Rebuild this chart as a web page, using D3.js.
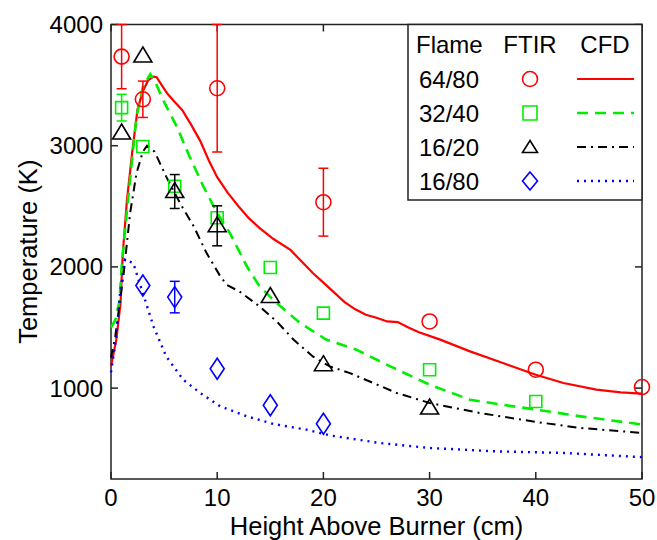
<!DOCTYPE html>
<html lang="en">
<head>
    <meta charset="UTF-8">
    <title>Temperature vs Height Above Burner</title>
    <script src="https://d3js.org/d3.v7.min.js"></script>
    <style>
        body {
            margin: 0;
            background-color: #fff;
        }
        svg {
            display: block;
            font-family: Arial, "Liberation Sans", sans-serif;
        }
    </style>
</head>
<body>
    <div id="chart"></div>

    <script>
        // CFD curves (temperature in K vs height in cm)
        const cfd6480X = [0, 0.5, 0.9, 1.1, 1.5, 2, 2.5, 3, 3.5, 4, 4.3, 4.7, 5.3, 6, 6.7, 7.5, 8.4, 9.2, 10, 11, 12, 13, 14, 15.3, 16.9, 18, 19, 20, 21, 22, 23, 24, 25, 26, 27, 28, 29, 31, 33.8, 36.9, 40, 42.6, 45.7, 48, 50];
        const cfd6480T = [1180, 1400, 1700, 2100, 2550, 2950, 3300, 3450, 3540, 3570, 3565, 3510, 3430, 3360, 3295, 3180, 3040, 2880, 2740, 2610, 2500, 2400, 2320, 2230, 2140, 2040, 1950, 1870, 1790, 1710, 1650, 1605, 1580, 1550, 1545, 1500, 1460, 1400, 1303, 1207, 1110, 1042, 987, 965, 955];

        const cfd3240X = [0, 0.4, 0.8, 1.0, 1.6, 2.4, 3.0, 3.7, 4.2, 4.9, 6.2, 7.4, 8.7, 10, 11.2, 12.8, 14, 15.6, 17.8, 20.3, 23.1, 26.3, 30, 33.8, 37.9, 40.1, 44.2, 50];
        const cfd3240T = [1500, 1560, 1720, 2000, 2553, 3240, 3487, 3590, 3520, 3378, 3157, 2910, 2663, 2444, 2279, 2003, 1838, 1702, 1537, 1399, 1317, 1179, 1028, 904, 849, 822, 767, 700];

        const cfd1620X = [0, 0.4, 1.2, 1.8, 2.4, 3.0, 3.4, 4.1, 5.2, 6.5, 7.8, 9.0, 10.3, 10.9, 12.1, 14.0, 15.6, 17.2, 19.0, 20.6, 22.5, 26.9, 30, 34.7, 40.1, 44.2, 50];
        const cfd1620T = [1250, 1426, 1948, 2444, 2773, 2951, 3000, 2951, 2745, 2526, 2333, 2114, 1921, 1852, 1797, 1673, 1550, 1399, 1261, 1179, 1124, 960, 877, 795, 720, 671, 630];

        const cfd1680X = [0, 0.5, 0.85, 1.3, 2.1, 3.0, 4.0, 5.2, 6.8, 8.4, 10.3, 12.8, 15.3, 18.4, 20.6, 25.3, 30, 36.3, 42.6, 50];
        const cfd1680T = [1130, 1426, 1784, 2060, 2031, 1784, 1509, 1261, 1069, 960, 849, 767, 704, 657, 610, 547, 506, 478, 465, 430];

        // FTIR measurements with error (+/-)
        const ftir6480X = [1, 3, 10, 20, 30, 40, 50];
        const ftir6480T = [3735, 3383, 3474, 2534, 1550, 1152, 1009];
        const ftir6480E = [265, 150, 526, 280, 0, 0, 0];

        const ftir3240X = [1, 3, 6, 10, 15, 20, 30, 40];
        const ftir3240T = [3314, 2993, 2665, 2405, 1995, 1619, 1152, 890];
        const ftir3240E = [110, 0, 0, 0, 0, 0, 0, 0];

        const ftir1620X = [1, 3, 6, 10, 15, 20, 30];
        const ftir1620T = [3105, 3740, 2622, 2339, 1756, 1193, 836];
        const ftir1620E = [0, 0, 140, 165, 0, 0, 0];

        const ftir1680X = [3, 6, 10, 15, 20];
        const ftir1680T = [1847, 1751, 1160, 858, 706];
        const ftir1680E = [0, 130, 0, 0, 0];

        const flames = ["64/80", "32/40", "16/20", "16/80"];
        const xTicks = [0, 10, 20, 30, 40, 50];
        const yTicks = [1000, 2000, 3000, 4000];

        const width = 657;
        const height = 540;
        const margin = { top: 24.5, right: 15, bottom: 61, left: 111 };
        const plotW = width - margin.left - margin.right;
        const plotH = height - margin.top - margin.bottom;

        const x = d3.scaleLinear().domain([0, 50]).range([0, plotW]);
        const y = d3.scaleLinear().domain([250, 4000]).range([plotH, 0]);

        const series = [
            { name: flames[0], color: "#ff0000", dash: null, lw: 2.2, symbol: "circle",
              cx: cfd6480X, cy: cfd6480T, fx: ftir6480X, fy: ftir6480T, fe: ftir6480E },
            { name: flames[1], color: "#00ee00", dash: "11,7", lw: 2.6, symbol: "square",
              cx: cfd3240X, cy: cfd3240T, fx: ftir3240X, fy: ftir3240T, fe: ftir3240E },
            { name: flames[2], color: "#000000", dash: "9,5,2,5", lw: 2, symbol: "triangle",
              cx: cfd1620X, cy: cfd1620T, fx: ftir1620X, fy: ftir1620T, fe: ftir1620E },
            { name: flames[3], color: "#0000ff", dash: "2,5", lw: 2.4, symbol: "diamond",
              cx: cfd1680X, cy: cfd1680T, fx: ftir1680X, fy: ftir1680T, fe: ftir1680E }
        ];

        // marker path centred on 0,0
        function markerPath(sym) {
            if (sym === "circle") return d3.arc()({ innerRadius: 0, outerRadius: 7.5, startAngle: 0, endAngle: 2 * Math.PI });
            if (sym === "square") return "M-6,-6H6V6H-6Z";
            if (sym === "triangle") return "M0,-9L9,6H-9Z";
            return "M0,-10.5L7,0L0,10.5L-7,0Z";
        }

        const svg = d3.select("#chart")
            .append("svg")
            .attr("width", width)
            .attr("height", height);

        const g = svg.append("g")
            .attr("transform", `translate(${margin.left},${margin.top})`);

        // axes frame with inward ticks on all four sides
        const tickLen = 7;
        const frame = g.append("g").attr("stroke", "#222").attr("stroke-width", 1.5);
        frame.append("rect")
            .attr("width", plotW).attr("height", plotH)
            .attr("fill", "none");
        xTicks.forEach(t => {
            frame.append("line").attr("x1", x(t)).attr("x2", x(t)).attr("y1", plotH).attr("y2", plotH - tickLen);
            frame.append("line").attr("x1", x(t)).attr("x2", x(t)).attr("y1", 0).attr("y2", tickLen);
        });
        yTicks.forEach(t => {
            frame.append("line").attr("x1", 0).attr("x2", tickLen).attr("y1", y(t)).attr("y2", y(t));
            frame.append("line").attr("x1", plotW).attr("x2", plotW - tickLen).attr("y1", y(t)).attr("y2", y(t));
        });

        // tick labels
        g.append("g").selectAll("text")
            .data(xTicks).enter().append("text")
            .attr("x", d => x(d)).attr("y", plotH + 27)
            .attr("text-anchor", "middle")
            .attr("font-size", 24)
            .text(d => d);
        g.append("g").selectAll("text")
            .data(yTicks).enter().append("text")
            .attr("x", -8).attr("y", d => y(d) + 8.5)
            .attr("text-anchor", "end")
            .attr("font-size", 24)
            .text(d => d);

        // axis titles
        g.append("text")
            .attr("x", plotW / 2).attr("y", plotH + 55.5)
            .attr("text-anchor", "middle")
            .attr("font-size", 25.5)
            .text("Height Above Burner (cm)");
        g.append("text")
            .attr("transform", `translate(${-74},${plotH / 2}) rotate(-90)`)
            .attr("text-anchor", "middle")
            .attr("font-size", 25.5)
            .text("Temperature (K)");

        // CFD lines
        const line = d3.line()
            .x(d => x(d[0]))
            .y(d => y(d[1]));

        g.append("g").selectAll("path")
            .data(series).enter().append("path")
            .attr("fill", "none")
            .attr("stroke", d => d.color)
            .attr("stroke-width", d => d.lw)
            .attr("stroke-dasharray", d => d.dash)
            .attr("d", d => line(d.cx.map((v, i) => [v, d.cy[i]])));

        // FTIR points and error bars
        series.forEach(s => {
            const pts = s.fx.map((v, i) => ({ x: v, t: s.fy[i], e: s.fe[i] }));
            const eg = g.append("g").attr("stroke", s.color).attr("stroke-width", 1.5);
            pts.filter(p => p.e > 0).forEach(p => {
                eg.append("line").attr("x1", x(p.x)).attr("x2", x(p.x)).attr("y1", y(p.t + p.e)).attr("y2", y(p.t - p.e));
                eg.append("line").attr("x1", x(p.x) - 5).attr("x2", x(p.x) + 5).attr("y1", y(p.t + p.e)).attr("y2", y(p.t + p.e));
                eg.append("line").attr("x1", x(p.x) - 5).attr("x2", x(p.x) + 5).attr("y1", y(p.t - p.e)).attr("y2", y(p.t - p.e));
            });
            g.append("g").selectAll("path")
                .data(pts).enter().append("path")
                .attr("transform", p => `translate(${x(p.x)},${y(p.t)})`)
                .attr("d", markerPath(s.symbol))
                .attr("fill", "none")
                .attr("stroke", s.color)
                .attr("stroke-width", 1.6);
        });

        // legend table
        const lg = svg.append("g");
        lg.append("rect")
            .attr("x", 408).attr("y", margin.top)
            .attr("width", margin.left + plotW - 408).attr("height", 200 - margin.top)
            .attr("fill", "#fff")
            .attr("stroke", "#222")
            .attr("stroke-width", 1.5);
        lg.append("text").attr("x", 416).attr("y", 53).attr("font-size", 24).text("Flame");
        lg.append("text").attr("x", 530).attr("y", 53).attr("font-size", 24).attr("text-anchor", "middle").text("FTIR");
        lg.append("text").attr("x", 605).attr("y", 53).attr("font-size", 24).attr("text-anchor", "middle").text("CFD");

        const legendMarker = {
            circle: d3.arc()({ innerRadius: 0, outerRadius: 7.5, startAngle: 0, endAngle: 2 * Math.PI }),
            square: "M-7,-7H7V7H-7Z",
            triangle: "M0,-6.5L7.5,5.5H-7.5Z",
            diamond: "M0,-9L7.5,0L0,9L-7.5,0Z"
        };

        series.forEach((s, i) => {
            const cy = 79 + i * 34;
            lg.append("text").attr("x", 419).attr("y", cy + 8.5).attr("font-size", 24).text(s.name);
            lg.append("path")
                .attr("transform", `translate(530,${cy})`)
                .attr("d", legendMarker[s.symbol])
                .attr("fill", "none")
                .attr("stroke", s.color)
                .attr("stroke-width", 1.6);
            lg.append("line")
                .attr("x1", 577).attr("x2", 634).attr("y1", cy).attr("y2", cy)
                .attr("stroke", s.color)
                .attr("stroke-width", s.lw)
                .attr("stroke-dasharray", s.dash);
        });
    </script>
</body>
</html>
